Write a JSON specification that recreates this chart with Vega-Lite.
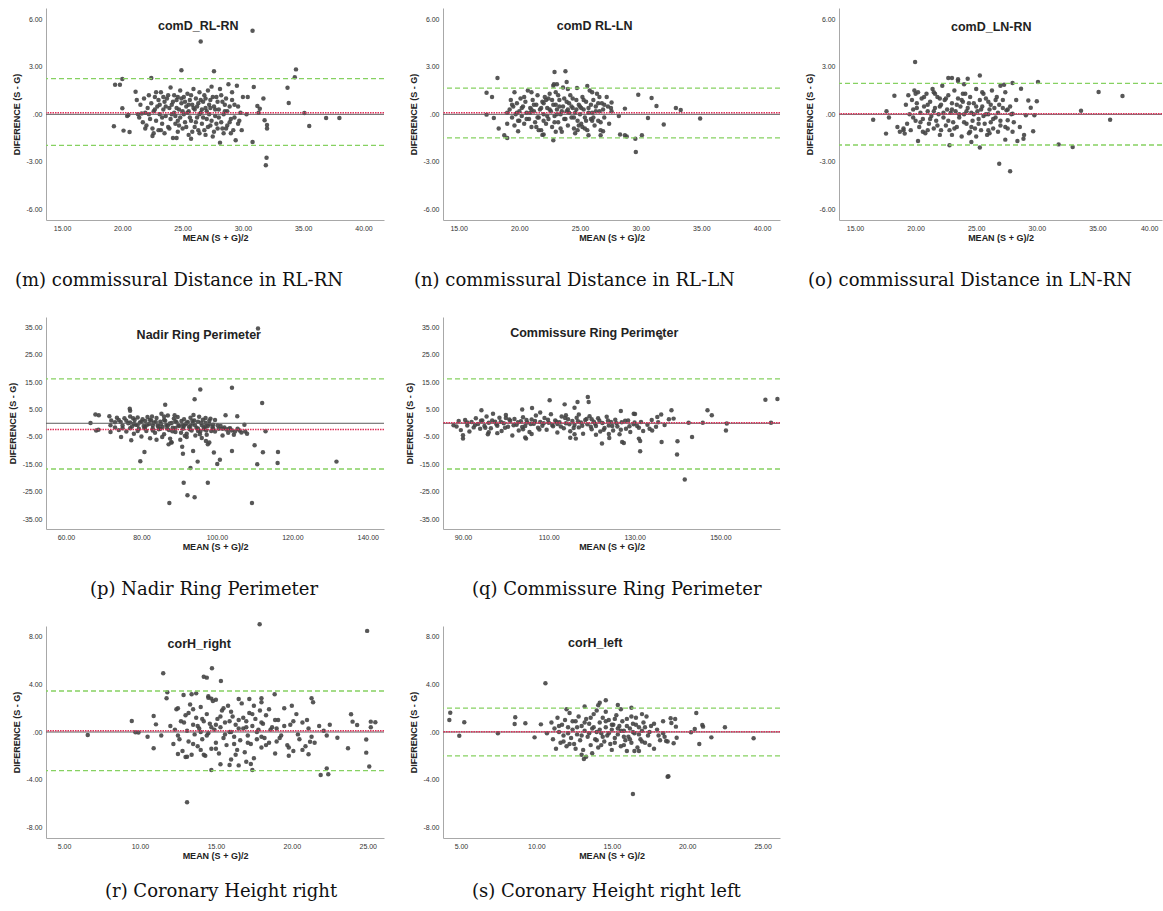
{
"$schema": "https://vega.github.io/schema/vega-lite/v6.json",
"padding": {"left": 8, "top": 8, "right": 0, "bottom": 5},
"config": {
 "view": {"stroke": null},
 "axis": {"domainColor": "#a8a8a8", "domainWidth": 1, "ticks": false, "grid": false, "labelOverlap": false, "labelFont": "Liberation Sans", "labelFontSize": 7, "labelColor": "#333333", "labelPadding": 4, "titleFont": "Liberation Sans", "titleFontSize": 9, "titleFontWeight": "bold", "titleColor": "#222222"},
 "axisX": {"titlePadding": 2},
 "axisY": {"titlePadding": 5},
 "title": {"font": "DejaVu Serif", "fontSize": 18, "fontWeight": "normal", "color": "#111111", "orient": "bottom", "anchor": "start", "frame": "group", "baseline": "top"}
},
"datasets": {
"m": [{"x":26.5,"y":4.6},{"x":30.8,"y":5.28},{"x":24.9,"y":2.78},{"x":27.6,"y":2.72},{"x":34.4,"y":2.84},{"x":34.3,"y":2.34},{"x":22.4,"y":2.3},{"x":20.0,"y":2.23},{"x":19.4,"y":1.87},{"x":19.8,"y":1.87},{"x":21.1,"y":1.43},{"x":33.7,"y":1.68},{"x":33.8,"y":0.72},{"x":30.9,"y":1.73},{"x":30.4,"y":1.1},{"x":35.1,"y":0.08},{"x":35.5,"y":-0.74},{"x":36.9,"y":-0.23},{"x":38.0,"y":-0.23},{"x":32.0,"y":-0.67},{"x":31.96,"y":-2.75},{"x":31.9,"y":-3.22},{"x":31.7,"y":1.0},{"x":31.8,"y":-0.38},{"x":32.0,"y":-0.9},{"x":30.8,"y":-1.75},{"x":28.1,"y":-1.79},{"x":19.3,"y":-0.76},{"x":20.1,"y":-1.03},{"x":20.6,"y":-1.12},{"x":20.0,"y":0.38},{"x":20.5,"y":-0.04},{"x":20.4,"y":-0.1},{"x":29.4,"y":-1.64},{"x":25.7,"y":-1.54},{"x":24.5,"y":-1.5},{"x":22.5,"y":-1.37},{"x":31.2,"y":0.53},{"x":31.4,"y":0.35},{"x":31.3,"y":0.1},{"x":30.3,"y":0.0},{"x":29.7,"y":-0.4},
{"x":21.2,"y":0.9},{"x":21.4,"y":-0.2},{"x":21.5,"y":0.6},{"x":21.7,"y":-0.5},{"x":21.8,"y":1.0},{"x":21.9,"y":0.1},{"x":22.0,"y":-0.7},{"x":22.1,"y":0.4},{"x":22.2,"y":1.2},{"x":22.3,"y":-0.3},{"x":22.4,"y":0.7},{"x":22.5,"y":-0.9},{"x":22.6,"y":0.2},{"x":22.7,"y":1.1},{"x":22.8,"y":-0.4},{"x":22.9,"y":0.5},{"x":23.0,"y":-1.0},{"x":23.0,"y":0.9},{"x":23.1,"y":0.0},{"x":23.2,"y":1.4},{"x":23.3,"y":-0.6},{"x":23.4,"y":0.3},{"x":23.5,"y":-1.2},{"x":23.5,"y":0.8},{"x":23.6,"y":-0.1},{"x":23.7,"y":1.0},{"x":23.8,"y":-0.8},{"x":23.9,"y":0.4},{"x":24.0,"y":1.7},{"x":24.0,"y":-0.3},{"x":24.1,"y":0.6},{"x":24.2,"y":-1.5},{"x":24.3,"y":1.2},{"x":24.3,"y":0.1},{"x":24.4,"y":-0.6},{"x":24.5,"y":0.9},{"x":24.6,"y":-1.1},{"x":24.7,"y":0.3},{"x":24.8,"y":1.5},{"x":24.8,"y":-0.2},{"x":24.9,"y":0.7},{"x":25.0,"y":-0.9},{"x":25.1,"y":1.1},{"x":25.1,"y":0.0},{"x":25.2,"y":-0.5},{"x":25.3,"y":0.5},{"x":25.4,"y":1.3},{"x":25.5,"y":-1.3},{"x":25.5,"y":0.2},{"x":25.6,"y":0.9},{"x":25.7,"y":-0.4},{"x":25.8,"y":0.6},{"x":25.9,"y":1.6},{"x":26.0,"y":-0.8},{"x":26.0,"y":0.3},{"x":26.1,"y":1.0},{"x":26.2,"y":-0.2},{"x":26.3,"y":0.7},{"x":26.4,"y":-1.2},{"x":26.4,"y":1.4},{"x":26.5,"y":0.1},{"x":26.6,"y":-0.6},{"x":26.7,"y":0.8},{"x":26.8,"y":1.2},{"x":26.8,"y":-1.0},{"x":26.9,"y":0.4},{"x":27.0,"y":-0.3},{"x":27.1,"y":1.5},{"x":27.2,"y":0.0},{"x":27.3,"y":-0.7},{"x":27.3,"y":0.9},{"x":27.4,"y":1.75},{"x":27.5,"y":-1.4},{"x":27.6,"y":0.5},{"x":27.7,"y":-0.1},{"x":27.8,"y":1.1},{"x":27.9,"y":-0.9},{"x":28.0,"y":0.3},{"x":28.1,"y":1.6},{"x":28.2,"y":-0.5},{"x":28.3,"y":0.8},{"x":28.4,"y":-1.2},{"x":28.5,"y":0.2},{"x":28.6,"y":1.0},{"x":28.7,"y":-0.7},{"x":28.8,"y":1.9},{"x":28.9,"y":0.5},{"x":29.0,"y":-0.3},{"x":29.1,"y":1.4},{"x":29.2,"y":-1.0},{"x":29.3,"y":0.6},{"x":29.5,"y":1.8},{"x":29.6,"y":-0.6},{"x":29.8,"y":0.1},{"x":30.0,"y":1.1},{"x":21.3,"y":0.0},{"x":21.6,"y":0.05},{"x":22.6,"y":-1.2},{"x":23.2,"y":-1.0},{"x":23.8,"y":1.2},{"x":24.6,"y":1.1},{"x":25.8,"y":-1.1},{"x":26.9,"y":-1.3},{"x":27.6,"y":-1.1},{"x":28.6,"y":-0.9},{"x":29.0,"y":-1.2},
{"x":22.2,"y":0.0},{"x":22.7,"y":0.3},{"x":23.1,"y":0.6},{"x":23.3,"y":-0.2},{"x":23.6,"y":0.5},{"x":23.9,"y":-0.9},{"x":24.1,"y":0.0},{"x":24.2,"y":0.8},{"x":24.4,"y":-0.1},{"x":24.5,"y":0.4},{"x":24.7,"y":-0.7},{"x":24.9,"y":1.0},{"x":25.0,"y":0.2},{"x":25.2,"y":0.8},{"x":25.3,"y":-0.8},{"x":25.4,"y":0.1},{"x":25.6,"y":-0.2},{"x":25.7,"y":1.2},{"x":25.9,"y":0.4},{"x":26.1,"y":-0.5},{"x":26.2,"y":0.5},{"x":26.3,"y":-1.0},{"x":26.5,"y":0.9},{"x":26.6,"y":0.3},{"x":26.7,"y":-0.2},{"x":26.9,"y":1.0},{"x":27.0,"y":0.2},{"x":27.1,"y":-0.8},{"x":27.2,"y":0.6},{"x":27.4,"y":-0.4},{"x":27.5,"y":1.1},{"x":27.7,"y":0.3},{"x":27.8,"y":-0.6},{"x":27.9,"y":0.8},{"x":28.0,"y":-0.2},{"x":28.2,"y":1.2},{"x":28.3,"y":-0.9},{"x":28.5,"y":0.6},{"x":28.7,"y":0.2},{"x":28.9,"y":-0.5},{"x":29.1,"y":0.9},{"x":29.3,"y":-0.2},{"x":29.6,"y":0.5},{"x":29.9,"y":-1.0},{"x":23.4,"y":1.1},{"x":24.6,"y":-0.4},{"x":25.5,"y":0.6},{"x":26.4,"y":0.0},{"x":27.3,"y":0.4},{"x":28.4,"y":0.0},{"x":21.9,"y":-0.9},{"x":22.8,"y":1.4}],
"n": [{"x":18.2,"y":2.29},{"x":17.3,"y":1.37},{"x":17.3,"y":-0.02},{"x":17.75,"y":1.1},{"x":17.9,"y":-0.23},{"x":18.3,"y":-0.9},{"x":18.76,"y":-1.33},{"x":19.0,"y":-1.5},{"x":19.0,"y":-0.6},{"x":19.9,"y":-1.07},{"x":22.9,"y":2.67},{"x":23.8,"y":2.72},{"x":23.9,"y":2.04},{"x":22.85,"y":1.9},{"x":23.1,"y":1.9},{"x":22.8,"y":-1.64},{"x":24.75,"y":1.66},{"x":25.6,"y":1.79},{"x":27.6,"y":0.74},{"x":27.55,"y":0.4},{"x":28.2,"y":-0.1},{"x":28.7,"y":0.36},{"x":28.3,"y":-1.28},{"x":28.7,"y":-1.33},{"x":28.85,"y":-1.4},{"x":29.56,"y":-1.54},{"x":29.6,"y":-2.38},{"x":29.8,"y":1.24},{"x":30.1,"y":-1.33},{"x":30.6,"y":-0.23},{"x":30.9,"y":1.03},{"x":31.3,"y":0.53},{"x":31.9,"y":-0.65},{"x":32.9,"y":0.4},{"x":33.3,"y":0.27},{"x":34.9,"y":-0.27},{"x":26.9,"y":-1.07},{"x":26.7,"y":-1.33},{"x":25.7,"y":-1.33},{"x":24.8,"y":-1.0},{"x":22.0,"y":-1.28},{"x":21.9,"y":-1.3},
{"x":19.2,"y":0.3},{"x":19.3,"y":0.9},{"x":19.4,"y":-0.2},{"x":19.5,"y":0.5},{"x":19.6,"y":1.4},{"x":19.7,"y":0.0},{"x":19.8,"y":0.7},{"x":19.9,"y":-0.4},{"x":20.0,"y":0.2},{"x":20.1,"y":1.0},{"x":20.2,"y":-0.1},{"x":20.3,"y":0.5},{"x":20.4,"y":-0.6},{"x":20.5,"y":0.8},{"x":20.6,"y":0.1},{"x":20.7,"y":1.5},{"x":20.8,"y":-0.3},{"x":20.9,"y":0.4},{"x":21.0,"y":-0.8},{"x":21.1,"y":0.9},{"x":21.2,"y":0.2},{"x":21.3,"y":-0.5},{"x":21.4,"y":0.6},{"x":21.5,"y":1.2},{"x":21.6,"y":-0.2},{"x":21.7,"y":0.3},{"x":21.8,"y":-1.0},{"x":21.9,"y":0.8},{"x":22.0,"y":0.0},{"x":22.1,"y":1.1},{"x":22.2,"y":-0.6},{"x":22.3,"y":0.4},{"x":22.4,"y":-0.3},{"x":22.5,"y":1.3},{"x":22.6,"y":0.2},{"x":22.7,"y":-0.8},{"x":22.8,"y":0.6},{"x":22.9,"y":-0.1},{"x":23.0,"y":1.4},{"x":23.1,"y":0.3},{"x":23.2,"y":-0.5},{"x":23.3,"y":0.9},{"x":23.4,"y":0.0},{"x":23.5,"y":-1.1},{"x":23.6,"y":0.5},{"x":23.7,"y":1.0},{"x":23.8,"y":-0.3},{"x":23.9,"y":0.2},{"x":24.0,"y":-0.7},{"x":24.1,"y":0.7},{"x":24.2,"y":1.2},{"x":24.3,"y":-0.2},{"x":24.4,"y":0.4},{"x":24.5,"y":-0.9},{"x":24.6,"y":0.1},{"x":24.7,"y":0.9},{"x":24.8,"y":-0.4},{"x":24.9,"y":0.6},{"x":25.0,"y":0.0},{"x":25.1,"y":-0.6},{"x":25.2,"y":1.1},{"x":25.3,"y":0.3},{"x":25.4,"y":-0.2},{"x":25.5,"y":0.8},{"x":25.6,"y":-1.0},{"x":25.7,"y":0.4},{"x":25.8,"y":1.5},{"x":25.9,"y":-0.3},{"x":26.0,"y":0.1},{"x":26.1,"y":0.9},{"x":26.2,"y":-0.7},{"x":26.3,"y":0.5},{"x":26.4,"y":1.3},{"x":26.5,"y":-0.4},{"x":26.6,"y":0.2},{"x":26.7,"y":-1.0},{"x":26.8,"y":0.7},{"x":27.0,"y":-0.2},{"x":27.2,"y":1.1},{"x":27.4,"y":-0.6},{"x":19.0,"y":0.1},{"x":19.6,"y":-0.7},{"x":20.4,"y":1.1},{"x":21.0,"y":1.4},{"x":21.6,"y":-1.0},{"x":22.2,"y":0.9},{"x":22.8,"y":1.8},{"x":23.4,"y":-0.9},{"x":24.0,"y":1.6},{"x":24.6,"y":-1.2},{"x":25.2,"y":-0.8},{"x":26.0,"y":1.4},{"x":26.6,"y":1.1},{"x":27.0,"y":0.6},{"x":27.6,"y":0.2},{"x":23.0,"y":-1.1},{"x":23.6,"y":1.7},
{"x":19.4,"y":0.6},{"x":19.8,"y":0.1},{"x":20.2,"y":0.4},{"x":20.6,"y":-0.3},{"x":20.9,"y":0.1},{"x":21.2,"y":0.6},{"x":21.5,"y":-0.2},{"x":21.8,"y":0.4},{"x":22.0,"y":0.7},{"x":22.3,"y":-0.1},{"x":22.5,"y":0.3},{"x":22.7,"y":0.9},{"x":22.9,"y":-0.5},{"x":23.1,"y":0.0},{"x":23.3,"y":0.5},{"x":23.5,"y":0.2},{"x":23.7,"y":-0.3},{"x":23.9,"y":0.8},{"x":24.1,"y":0.1},{"x":24.3,"y":0.5},{"x":24.5,"y":-0.2},{"x":24.7,"y":0.3},{"x":24.9,"y":-0.7},{"x":25.1,"y":0.4},{"x":25.3,"y":0.9},{"x":25.5,"y":-0.4},{"x":25.7,"y":0.1},{"x":25.9,"y":0.6},{"x":26.1,"y":-0.2},{"x":26.3,"y":0.2},{"x":26.5,"y":0.7},{"x":26.7,"y":-0.5},{"x":26.9,"y":0.3},{"x":27.3,"y":0.5},{"x":20.0,"y":-0.4},{"x":21.0,"y":0.3},{"x":22.0,"y":-0.4},{"x":23.0,"y":0.6},{"x":24.0,"y":0.3},{"x":25.0,"y":0.5},{"x":26.0,"y":-0.4},{"x":22.4,"y":1.0},{"x":24.4,"y":1.0},{"x":23.2,"y":1.2},{"x":21.4,"y":-0.8},{"x":25.4,"y":-0.9}],
"o": [{"x":19.96,"y":3.3},{"x":16.5,"y":-0.34},{"x":17.56,"y":-1.22},{"x":17.6,"y":0.19},{"x":17.8,"y":-0.2},{"x":18.25,"y":1.18},{"x":18.5,"y":-0.8},{"x":18.7,"y":-1.1},{"x":19.1,"y":-1.22},{"x":19.0,"y":-1.0},{"x":20.2,"y":-1.68},{"x":22.8,"y":-1.96},{"x":25.3,"y":-2.1},{"x":24.6,"y":-1.75},{"x":26.9,"y":-3.12},{"x":27.8,"y":-3.6},{"x":27.4,"y":-1.6},{"x":28.4,"y":-1.68},{"x":28.9,"y":-1.54},{"x":28.95,"y":-1.3},{"x":28.0,"y":1.98},{"x":27.3,"y":1.87},{"x":28.7,"y":1.62},{"x":25.3,"y":2.46},{"x":22.7,"y":2.29},{"x":23.0,"y":2.29},{"x":23.5,"y":2.21},{"x":24.3,"y":2.25},{"x":30.1,"y":2.04},{"x":29.3,"y":0.88},{"x":30.0,"y":0.82},{"x":29.1,"y":-0.06},{"x":29.8,"y":-0.06},{"x":29.7,"y":-1.07},{"x":29.5,"y":0.42},{"x":31.8,"y":-1.9},{"x":32.96,"y":-2.06},{"x":33.65,"y":0.23},{"x":35.1,"y":1.41},{"x":36.05,"y":-0.34},{"x":37.07,"y":1.16},{"x":27.5,"y":0.25},{"x":27.6,"y":-0.38},{"x":28.0,"y":0.04},
{"x":19.2,"y":0.6},{"x":19.3,"y":-0.6},{"x":19.4,"y":1.2},{"x":19.5,"y":0.0},{"x":19.6,"y":-1.0},{"x":19.7,"y":0.9},{"x":19.8,"y":0.3},{"x":19.9,"y":1.5},{"x":20.0,"y":-0.4},{"x":20.1,"y":0.7},{"x":20.2,"y":1.4},{"x":20.3,"y":-0.8},{"x":20.4,"y":0.1},{"x":20.5,"y":1.0},{"x":20.6,"y":-0.3},{"x":20.7,"y":0.5},{"x":20.8,"y":-1.2},{"x":20.9,"y":1.3},{"x":21.0,"y":0.2},{"x":21.1,"y":-0.6},{"x":21.2,"y":0.8},{"x":21.3,"y":-0.1},{"x":21.4,"y":1.6},{"x":21.5,"y":-0.9},{"x":21.6,"y":0.4},{"x":21.7,"y":-0.4},{"x":21.8,"y":1.1},{"x":21.9,"y":0.0},{"x":22.0,"y":-1.3},{"x":22.1,"y":0.6},{"x":22.2,"y":1.8},{"x":22.3,"y":-0.2},{"x":22.4,"y":0.9},{"x":22.5,"y":-0.7},{"x":22.6,"y":0.3},{"x":22.7,"y":1.2},{"x":22.8,"y":-1.0},{"x":22.9,"y":0.1},{"x":23.0,"y":0.7},{"x":23.1,"y":-0.5},{"x":23.2,"y":1.5},{"x":23.3,"y":0.2},{"x":23.4,"y":-0.8},{"x":23.5,"y":1.0},{"x":23.6,"y":-0.2},{"x":23.7,"y":0.5},{"x":23.8,"y":-1.4},{"x":23.9,"y":0.8},{"x":24.0,"y":0.0},{"x":24.1,"y":1.3},{"x":24.2,"y":-0.6},{"x":24.3,"y":0.4},{"x":24.4,"y":-1.2},{"x":24.5,"y":1.1},{"x":24.6,"y":0.1},{"x":24.7,"y":-0.4},{"x":24.8,"y":0.7},{"x":24.9,"y":-0.9},{"x":25.0,"y":1.6},{"x":25.1,"y":0.2},{"x":25.2,"y":-0.3},{"x":25.3,"y":0.9},{"x":25.4,"y":-1.0},{"x":25.5,"y":0.5},{"x":25.6,"y":1.3},{"x":25.7,"y":-0.6},{"x":25.8,"y":0.0},{"x":25.9,"y":-1.3},{"x":26.0,"y":0.8},{"x":26.1,"y":0.3},{"x":26.2,"y":-0.5},{"x":26.3,"y":1.5},{"x":26.4,"y":-0.9},{"x":26.5,"y":0.4},{"x":26.6,"y":-0.2},{"x":26.7,"y":1.1},{"x":26.8,"y":-1.1},{"x":26.9,"y":0.6},{"x":27.0,"y":-0.7},{"x":27.2,"y":0.9},{"x":27.4,"y":1.4},{"x":27.6,"y":-0.9},{"x":27.8,"y":0.5},{"x":28.1,"y":-0.5},{"x":28.3,"y":0.9},{"x":28.6,"y":-0.8},{"x":19.0,"y":-0.9},{"x":20.0,"y":1.3},{"x":21.0,"y":-1.0},{"x":22.0,"y":1.0},{"x":23.0,"y":-1.3},{"x":24.0,"y":1.9},{"x":25.0,"y":-1.4},{"x":26.0,"y":-1.0},{"x":27.0,"y":1.8},{"x":28.0,"y":-1.1},{"x":23.5,"y":2.1},{"x":21.5,"y":1.4},
{"x":19.8,"y":-0.2},{"x":20.1,"y":0.4},{"x":20.4,"y":-0.5},{"x":20.7,"y":1.1},{"x":21.0,"y":0.6},{"x":21.2,"y":-0.3},{"x":21.5,"y":0.2},{"x":21.8,"y":-0.7},{"x":22.0,"y":0.5},{"x":22.3,"y":0.1},{"x":22.5,"y":1.0},{"x":22.7,"y":-0.4},{"x":23.0,"y":0.3},{"x":23.2,"y":-0.9},{"x":23.4,"y":0.6},{"x":23.6,"y":0.0},{"x":23.8,"y":0.9},{"x":24.0,"y":-0.5},{"x":24.2,"y":0.2},{"x":24.4,"y":0.7},{"x":24.6,"y":-0.8},{"x":24.8,"y":0.0},{"x":25.0,"y":0.5},{"x":25.2,"y":-0.6},{"x":25.4,"y":0.3},{"x":25.6,"y":-0.1},{"x":25.8,"y":1.0},{"x":26.0,"y":0.0},{"x":26.2,"y":0.6},{"x":26.4,"y":-0.3},{"x":26.6,"y":0.9},{"x":26.8,"y":0.1},{"x":27.0,"y":-0.4},{"x":27.2,"y":0.4},{"x":27.4,"y":-0.8},{"x":27.6,"y":0.3},{"x":27.9,"y":0.0},{"x":22.1,"y":-1.0},{"x":24.5,"y":-1.1},{"x":26.1,"y":-1.2},{"x":21.6,"y":1.3},{"x":25.5,"y":1.4},{"x":23.9,"y":1.3},{"x":20.6,"y":-1.1}],
"p": [{"x":110.9,"y":34.6},{"x":95.6,"y":12.3},{"x":104.0,"y":13.0},{"x":94.1,"y":8.8},{"x":86.3,"y":6.8},{"x":112.0,"y":7.4},{"x":76.9,"y":5.3},{"x":77.0,"y":4.6},{"x":102.3,"y":2.9},{"x":105.4,"y":2.6},{"x":107.3,"y":-0.5},{"x":112.9,"y":-2.9},{"x":110.0,"y":-8.0},{"x":112.2,"y":-10.6},{"x":116.2,"y":-10.5},{"x":116.1,"y":-14.5},{"x":131.7,"y":-14.0},{"x":110.7,"y":-15.0},{"x":104.0,"y":-10.1},{"x":100.8,"y":-13.3},{"x":100.1,"y":-14.9},{"x":99.2,"y":-10.7},{"x":94.9,"y":-14.0},{"x":93.0,"y":-16.3},{"x":93.7,"y":-10.1},{"x":91.0,"y":-11.1},{"x":90.8,"y":-8.6},{"x":80.8,"y":-10.5},{"x":79.7,"y":-13.9},{"x":91.2,"y":-21.7},{"x":92.2,"y":-26.3},{"x":94.1,"y":-27.0},{"x":97.6,"y":-21.7},{"x":87.4,"y":-29.1},{"x":109.3,"y":-29.1},{"x":97.1,"y":-6.5},{"x":97.6,"y":-7.7},{"x":87.2,"y":-7.7},{"x":87.9,"y":-6.9},{"x":74.6,"y":-5.0},{"x":77.3,"y":-6.2},{"x":66.5,"y":0.1},{"x":67.8,"y":3.2},{"x":68.7,"y":2.9},{"x":68.0,"y":-2.6},{"x":68.6,"y":-2.4},{"x":71.5,"y":2.6},{"x":71.8,"y":-0.7},{"x":71.8,"y":-3.2},{"x":97.0,"y":1.9},{"x":98.3,"y":1.7},
{"x":72.0,"y":1.0},{"x":73.0,"y":-1.5},{"x":73.5,"y":2.0},{"x":74.0,"y":-2.5},{"x":74.5,"y":0.5},{"x":75.0,"y":-0.8},{"x":75.5,"y":1.8},{"x":76.0,"y":-3.0},{"x":76.5,"y":0.0},{"x":77.0,"y":2.5},{"x":77.5,"y":-1.2},{"x":78.0,"y":-3.8},{"x":78.2,"y":1.2},{"x":78.5,"y":-0.5},{"x":79.0,"y":2.1},{"x":79.3,"y":-2.0},{"x":79.6,"y":0.3},{"x":80.0,"y":-4.8},{"x":80.3,"y":1.5},{"x":80.6,"y":-1.0},{"x":81.0,"y":0.8},{"x":81.3,"y":-2.8},{"x":81.6,"y":2.3},{"x":82.0,"y":-0.3},{"x":82.3,"y":-5.5},{"x":82.6,"y":1.0},{"x":83.0,"y":-1.8},{"x":83.3,"y":0.2},{"x":83.6,"y":-3.5},{"x":84.0,"y":1.9},{"x":84.3,"y":-0.9},{"x":84.6,"y":-2.2},{"x":85.0,"y":0.6},{"x":85.3,"y":3.5},{"x":85.6,"y":-1.4},{"x":86.0,"y":-4.0},{"x":86.3,"y":0.9},{"x":86.6,"y":-0.6},{"x":87.0,"y":2.8},{"x":87.3,"y":-2.5},{"x":87.6,"y":-5.6},{"x":88.0,"y":0.1},{"x":88.3,"y":-1.6},{"x":88.6,"y":1.7},{"x":89.0,"y":-3.2},{"x":89.3,"y":0.4},{"x":89.6,"y":2.3},{"x":90.0,"y":-1.0},{"x":90.3,"y":-6.0},{"x":90.6,"y":0.8},{"x":91.0,"y":-2.0},{"x":91.3,"y":1.5},{"x":91.6,"y":-0.4},{"x":92.0,"y":-3.8},{"x":92.3,"y":0.5},{"x":92.6,"y":-1.3},{"x":93.0,"y":2.0},{"x":93.3,"y":-2.6},{"x":93.6,"y":-0.1},{"x":94.0,"y":1.0},{"x":94.3,"y":-4.5},{"x":94.6,"y":-1.7},{"x":95.0,"y":0.6},{"x":95.3,"y":2.4},{"x":95.6,"y":-3.0},{"x":96.0,"y":-0.6},{"x":96.3,"y":1.3},{"x":96.6,"y":-2.2},{"x":97.0,"y":0.2},{"x":97.3,"y":-4.2},{"x":97.6,"y":-1.0},{"x":98.0,"y":0.9},{"x":98.5,"y":-2.8},{"x":99.0,"y":-0.5},{"x":99.5,"y":1.2},{"x":100.5,"y":-2.0},{"x":101.0,"y":-1.0},{"x":101.5,"y":-4.5},{"x":102.0,"y":-1.5},{"x":102.5,"y":-2.3},{"x":103.0,"y":-3.5},{"x":103.5,"y":-1.8},{"x":104.0,"y":-2.6},{"x":104.5,"y":-4.2},{"x":105.5,"y":-2.0},{"x":106.5,"y":-3.4},{"x":107.5,"y":-3.0},{"x":108.0,"y":-3.8},{"x":77.0,"y":-1.8},{"x":79.0,"y":-0.6},{"x":81.0,"y":-1.4},{"x":83.0,"y":-0.7},{"x":85.0,"y":-2.0},{"x":87.0,"y":-0.8},{"x":89.0,"y":-1.7},{"x":91.0,"y":-0.6},{"x":93.0,"y":-1.0},{"x":95.0,"y":-1.9},{"x":97.0,"y":-1.2},{"x":99.0,"y":-1.9},{"x":84.0,"y":-6.0},{"x":86.0,"y":2.5},{"x":88.0,"y":-7.0},{"x":92.0,"y":-5.0},{"x":96.0,"y":-5.4},{"x":98.0,"y":-7.0},
{"x":73.0,"y":0.4},{"x":74.0,"y":1.2},{"x":75.0,"y":-1.8},{"x":76.0,"y":0.9},{"x":77.0,"y":0.3},{"x":78.0,"y":-0.2},{"x":79.0,"y":-2.8},{"x":80.0,"y":0.6},{"x":80.8,"y":-1.8},{"x":81.5,"y":-0.5},{"x":82.2,"y":1.3},{"x":83.0,"y":-2.6},{"x":83.8,"y":0.5},{"x":84.5,"y":-1.2},{"x":85.2,"y":-0.3},{"x":86.0,"y":1.2},{"x":86.8,"y":-1.9},{"x":87.5,"y":-0.1},{"x":88.2,"y":-2.9},{"x":89.0,"y":0.7},{"x":89.8,"y":-0.8},{"x":90.5,"y":-3.5},{"x":91.2,"y":-1.2},{"x":92.0,"y":0.1},{"x":92.8,"y":-2.2},{"x":93.5,"y":0.9},{"x":94.2,"y":-0.7},{"x":95.0,"y":-2.8},{"x":95.8,"y":0.2},{"x":96.5,"y":-1.5},{"x":97.2,"y":-2.6},{"x":98.0,"y":-0.3},{"x":98.8,"y":-1.4},{"x":99.5,"y":-3.0},{"x":100.2,"y":-0.8},{"x":101.5,"y":-2.0},{"x":103.2,"y":-2.0},{"x":104.8,"y":-3.0},{"x":106.0,"y":-2.6},{"x":77.8,"y":1.8},{"x":82.8,"y":2.5},{"x":88.8,"y":2.9},{"x":93.8,"y":3.0},{"x":85.5,"y":-5.0},{"x":91.5,"y":-4.6},{"x":95.5,"y":-4.0}],
"q": [{"x":136.1,"y":31.2},{"x":160.5,"y":8.6},{"x":163.3,"y":8.9},{"x":161.8,"y":0.2},{"x":147.0,"y":4.75},{"x":148.0,"y":2.9},{"x":145.9,"y":0.2},{"x":151.3,"y":-2.6},{"x":151.5,"y":-0.1},{"x":141.7,"y":-20.5},{"x":139.9,"y":-11.4},{"x":140.0,"y":-6.6},{"x":143.4,"y":-5.0},{"x":142.6,"y":0.2},{"x":138.6,"y":4.75},{"x":139.1,"y":1.7},{"x":136.2,"y":3.2},{"x":135.3,"y":2.3},{"x":136.3,"y":-6.8},{"x":134.1,"y":-2.6},{"x":131.3,"y":-10.2},{"x":131.0,"y":-5.6},{"x":131.3,"y":-6.5},{"x":129.8,"y":3.5},{"x":130.1,"y":3.4},{"x":130.6,"y":-1.0},{"x":122.4,"y":-7.4},{"x":126.8,"y":4.5},{"x":127.1,"y":-6.8},{"x":127.5,"y":-7.2},{"x":124.1,"y":-5.4},{"x":119.1,"y":9.6},{"x":119.3,"y":7.8},{"x":116.7,"y":7.8},{"x":113.7,"y":6.9},{"x":110.2,"y":8.4},{"x":116.0,"y":5.7},{"x":116.3,"y":-5.6},{"x":115.0,"y":-5.3},{"x":104.5,"y":-5.2},{"x":104.7,"y":-5.6},{"x":106.1,"y":5.6},{"x":103.8,"y":5.0},{"x":94.3,"y":4.75},{"x":90.0,"y":-4.4},{"x":90.0,"y":-5.6},{"x":87.8,"y":-0.7},{"x":95.8,"y":-4.0},
{"x":88.5,"y":-1.2},{"x":89.0,"y":0.8},{"x":89.5,"y":-2.5},{"x":90.5,"y":1.2},{"x":91.0,"y":-0.8},{"x":91.5,"y":-3.0},{"x":92.0,"y":0.5},{"x":92.5,"y":-1.5},{"x":93.0,"y":1.8},{"x":93.5,"y":-0.3},{"x":94.0,"y":-2.0},{"x":94.5,"y":1.0},{"x":95.0,"y":-1.0},{"x":95.5,"y":2.5},{"x":96.0,"y":0.2},{"x":96.5,"y":-1.8},{"x":97.0,"y":3.5},{"x":97.5,"y":0.6},{"x":98.0,"y":-0.9},{"x":98.5,"y":2.0},{"x":99.0,"y":-2.8},{"x":99.5,"y":0.0},{"x":100.0,"y":3.0},{"x":100.5,"y":-1.3},{"x":101.0,"y":0.9},{"x":101.5,"y":-4.5},{"x":102.0,"y":1.6},{"x":102.5,"y":-0.5},{"x":103.0,"y":-2.6},{"x":103.5,"y":0.7},{"x":104.0,"y":2.2},{"x":104.5,"y":-1.0},{"x":105.0,"y":0.3},{"x":105.5,"y":-3.2},{"x":106.0,"y":1.4},{"x":106.5,"y":-0.2},{"x":107.0,"y":2.8},{"x":107.5,"y":-1.6},{"x":108.0,"y":0.5},{"x":108.5,"y":-0.9},{"x":109.0,"y":1.9},{"x":109.5,"y":-2.4},{"x":110.0,"y":0.2},{"x":110.5,"y":3.3},{"x":111.0,"y":-1.1},{"x":111.5,"y":1.0},{"x":112.0,"y":-3.4},{"x":112.5,"y":0.4},{"x":113.0,"y":2.5},{"x":113.5,"y":-1.8},{"x":114.0,"y":0.0},{"x":114.5,"y":1.5},{"x":115.0,"y":-2.9},{"x":115.5,"y":0.8},{"x":116.0,"y":-0.6},{"x":116.5,"y":2.0},{"x":117.0,"y":-1.5},{"x":117.5,"y":0.3},{"x":118.0,"y":-3.8},{"x":118.5,"y":1.2},{"x":119.0,"y":-0.4},{"x":119.5,"y":2.6},{"x":120.0,"y":-2.2},{"x":120.5,"y":0.6},{"x":121.0,"y":-1.0},{"x":121.5,"y":1.8},{"x":122.0,"y":-3.0},{"x":122.5,"y":0.1},{"x":123.0,"y":-1.7},{"x":123.5,"y":2.4},{"x":124.0,"y":-0.8},{"x":124.5,"y":0.5},{"x":125.0,"y":-2.6},{"x":125.5,"y":1.3},{"x":126.0,"y":-1.2},{"x":126.5,"y":-4.0},{"x":127.0,"y":0.4},{"x":128.0,"y":-2.0},{"x":128.5,"y":1.0},{"x":129.0,"y":-3.2},{"x":130.0,"y":0.3},{"x":131.0,"y":-1.6},{"x":132.0,"y":-2.8},{"x":133.0,"y":-0.5},{"x":134.0,"y":1.2},{"x":135.0,"y":-1.3},{"x":137.0,"y":-0.6},{"x":138.0,"y":1.5},{"x":96.0,"y":-3.3},{"x":100.0,"y":1.9},{"x":104.0,"y":-2.2},{"x":108.0,"y":3.9},{"x":112.0,"y":-0.3},{"x":116.0,"y":-4.0},{"x":120.0,"y":1.5},{"x":124.0,"y":-3.9},
{"x":91.0,"y":0.3},{"x":92.8,"y":-0.6},{"x":94.2,"y":0.9},{"x":95.2,"y":-1.6},{"x":96.8,"y":1.0},{"x":97.8,"y":-0.4},{"x":98.8,"y":0.6},{"x":99.8,"y":-1.6},{"x":100.8,"y":1.4},{"x":101.8,"y":-0.7},{"x":102.8,"y":0.4},{"x":103.8,"y":-1.4},{"x":104.8,"y":1.2},{"x":105.8,"y":-0.3},{"x":106.8,"y":0.8},{"x":107.8,"y":-2.3},{"x":108.8,"y":0.0},{"x":109.8,"y":1.3},{"x":110.8,"y":-0.6},{"x":111.8,"y":0.6},{"x":112.8,"y":-1.2},{"x":113.8,"y":1.9},{"x":114.8,"y":-0.4},{"x":115.8,"y":-1.7},{"x":116.8,"y":0.7},{"x":117.8,"y":-0.9},{"x":118.8,"y":1.6},{"x":119.8,"y":-1.3},{"x":120.8,"y":-0.2},{"x":121.8,"y":0.9},{"x":122.8,"y":-2.4},{"x":123.8,"y":1.0},{"x":124.8,"y":-1.0},{"x":125.8,"y":0.0},{"x":126.8,"y":-2.4},{"x":127.8,"y":0.9},{"x":128.8,"y":-1.1},{"x":129.8,"y":-0.4},{"x":131.5,"y":0.5},{"x":133.5,"y":-2.0},{"x":135.5,"y":0.4},{"x":98.0,"y":-3.6},{"x":106.0,"y":-3.9},{"x":114.0,"y":2.9},{"x":121.0,"y":-4.2},{"x":117.0,"y":3.2}],
"r": [{"x":17.88,"y":9.03},{"x":24.96,"y":8.48},{"x":13.1,"y":-5.9},{"x":14.74,"y":5.34},{"x":11.53,"y":4.92},{"x":14.2,"y":4.64},{"x":14.4,"y":4.56},{"x":15.33,"y":4.28},{"x":11.8,"y":3.33},{"x":11.75,"y":2.83},{"x":12.87,"y":3.1},{"x":13.4,"y":3.16},{"x":13.7,"y":3.24},{"x":14.5,"y":2.88},{"x":14.7,"y":2.8},{"x":16.5,"y":2.77},{"x":17.2,"y":2.77},{"x":18.0,"y":2.83},{"x":18.87,"y":3.16},{"x":21.3,"y":2.83},{"x":21.4,"y":2.49},{"x":23.9,"y":1.48},{"x":24.0,"y":0.87},{"x":24.3,"y":0.59},{"x":25.2,"y":0.87},{"x":25.5,"y":0.81},{"x":25.2,"y":0.39},{"x":24.9,"y":-0.62},{"x":24.9,"y":-1.73},{"x":25.1,"y":-2.9},{"x":23.7,"y":-1.37},{"x":23.0,"y":-0.48},{"x":21.9,"y":-3.6},{"x":22.4,"y":-3.55},{"x":22.3,"y":-3.05},{"x":21.1,"y":-1.87},{"x":21.2,"y":-0.81},{"x":14.7,"y":-3.19},{"x":17.4,"y":-3.19},{"x":15.3,"y":-2.7},{"x":17.3,"y":-2.68},{"x":15.9,"y":-2.77},{"x":12.5,"y":-1.85},{"x":13.1,"y":-2.07},{"x":10.9,"y":-1.37},{"x":9.46,"y":0.92},{"x":9.7,"y":-0.03},{"x":9.9,"y":-0.05},{"x":6.56,"y":-0.25},{"x":10.5,"y":-0.39},{"x":10.9,"y":1.34},{"x":11.05,"y":0.64},{"x":11.4,"y":-0.3},
{"x":12.0,"y":0.5},{"x":12.2,"y":-1.0},{"x":12.4,"y":1.9},{"x":12.5,"y":-0.3},{"x":12.7,"y":0.9},{"x":12.8,"y":-1.6},{"x":13.0,"y":1.4},{"x":13.1,"y":0.1},{"x":13.2,"y":-0.8},{"x":13.3,"y":2.3},{"x":13.4,"y":-1.9},{"x":13.5,"y":0.6},{"x":13.6,"y":-0.2},{"x":13.7,"y":1.2},{"x":13.8,"y":-1.2},{"x":13.9,"y":0.3},{"x":14.0,"y":2.1},{"x":14.1,"y":-0.6},{"x":14.2,"y":0.9},{"x":14.3,"y":-2.0},{"x":14.4,"y":1.5},{"x":14.5,"y":-0.1},{"x":14.6,"y":0.7},{"x":14.7,"y":-1.4},{"x":14.8,"y":2.6},{"x":14.9,"y":0.2},{"x":15.0,"y":-0.9},{"x":15.1,"y":1.1},{"x":15.2,"y":-1.8},{"x":15.3,"y":0.4},{"x":15.4,"y":1.8},{"x":15.5,"y":-0.5},{"x":15.6,"y":0.8},{"x":15.7,"y":-1.1},{"x":15.8,"y":2.2},{"x":15.9,"y":0.0},{"x":16.0,"y":-2.3},{"x":16.1,"y":1.3},{"x":16.2,"y":-0.4},{"x":16.3,"y":0.6},{"x":16.4,"y":-1.5},{"x":16.5,"y":1.0},{"x":16.6,"y":-0.7},{"x":16.7,"y":2.4},{"x":16.8,"y":0.3},{"x":16.9,"y":-1.7},{"x":17.0,"y":0.9},{"x":17.1,"y":-0.3},{"x":17.2,"y":1.6},{"x":17.3,"y":-1.0},{"x":17.4,"y":0.5},{"x":17.5,"y":-2.2},{"x":17.6,"y":1.1},{"x":17.7,"y":-0.6},{"x":17.8,"y":0.2},{"x":17.9,"y":1.8},{"x":18.0,"y":-1.3},{"x":18.1,"y":0.7},{"x":18.2,"y":-0.5},{"x":18.3,"y":1.4},{"x":18.5,"y":-0.9},{"x":18.7,"y":0.4},{"x":18.9,"y":-1.8},{"x":19.1,"y":1.0},{"x":19.3,"y":-0.3},{"x":19.5,"y":2.0},{"x":19.7,"y":-1.1},{"x":19.9,"y":0.6},{"x":20.1,"y":-1.6},{"x":20.3,"y":1.5},{"x":20.5,"y":-0.6},{"x":20.7,"y":0.8},{"x":20.9,"y":-1.2},{"x":21.1,"y":0.3},{"x":21.5,"y":-0.9},{"x":21.8,"y":0.5},{"x":22.1,"y":0.1},{"x":22.3,"y":-0.3},{"x":22.5,"y":0.6},{"x":13.0,"y":-2.1},{"x":14.0,"y":-1.5},{"x":15.0,"y":2.7},{"x":16.0,"y":1.7},{"x":17.0,"y":-2.5},{"x":18.0,"y":2.5},{"x":19.0,"y":-0.8},{"x":20.0,"y":2.2},{"x":14.5,"y":3.0},{"x":12.5,"y":2.0},{"x":19.8,"y":-2.0},{"x":16.5,"y":-2.8},
{"x":12.3,"y":0.2},{"x":12.6,"y":-0.6},{"x":12.9,"y":0.8},{"x":13.2,"y":1.6},{"x":13.5,"y":-1.0},{"x":13.8,"y":0.5},{"x":14.1,"y":1.1},{"x":14.4,"y":-0.3},{"x":14.7,"y":0.4},{"x":15.0,"y":-1.4},{"x":15.3,"y":1.3},{"x":15.6,"y":-0.2},{"x":15.9,"y":0.9},{"x":16.2,"y":-1.0},{"x":16.5,"y":0.3},{"x":16.8,"y":1.2},{"x":17.1,"y":-0.9},{"x":17.4,"y":1.5},{"x":17.7,"y":0.0},{"x":18.0,"y":0.8},{"x":18.3,"y":-1.1},{"x":18.6,"y":0.2},{"x":18.9,"y":1.0},{"x":19.2,"y":-0.5},{"x":19.5,"y":0.5},{"x":19.8,"y":-1.3},{"x":20.1,"y":0.9},{"x":20.4,"y":-0.2},{"x":20.7,"y":-1.5},{"x":21.0,"y":1.0},{"x":21.3,"y":-0.4},{"x":14.0,"y":0.0},{"x":15.0,"y":0.6},{"x":16.0,"y":0.0},{"x":17.0,"y":0.4},{"x":18.0,"y":-0.4},{"x":19.0,"y":0.3},{"x":13.5,"y":1.9},{"x":15.5,"y":2.0},{"x":17.5,"y":2.2},{"x":14.2,"y":-1.9},{"x":16.3,"y":-1.9},{"x":18.5,"y":1.9}],
"s": [{"x":4.29,"y":1.62},{"x":4.23,"y":1.0},{"x":4.89,"y":-0.31},{"x":5.22,"y":0.81},{"x":7.45,"y":-0.11},{"x":8.6,"y":1.23},{"x":8.56,"y":0.67},{"x":9.27,"y":0.73},{"x":9.88,"y":-0.45},{"x":10.6,"y":4.08},{"x":16.4,"y":-5.2},{"x":18.7,"y":-3.75},{"x":18.75,"y":-3.72},{"x":15.4,"y":2.27},{"x":14.6,"y":2.66},{"x":14.2,"y":2.46},{"x":14.1,"y":2.25},{"x":13.2,"y":2.13},{"x":16.3,"y":2.04},{"x":13.15,"y":-2.27},{"x":13.3,"y":-2.07},{"x":13.7,"y":-1.79},{"x":16.5,"y":-1.59},{"x":20.6,"y":1.59},{"x":20.25,"y":-0.03},{"x":20.5,"y":0.25},{"x":20.8,"y":-1.0},{"x":21.0,"y":0.59},{"x":21.05,"y":0.45},{"x":21.6,"y":-0.45},{"x":22.5,"y":0.39},{"x":24.4,"y":-0.53},{"x":19.2,"y":1.09},{"x":19.25,"y":0.45},{"x":19.3,"y":-0.48},{"x":18.9,"y":1.15},{"x":18.95,"y":0.75},{"x":18.5,"y":-0.39},{"x":18.6,"y":-0.76},{"x":19.1,"y":-0.95},{"x":10.7,"y":-0.11},{"x":10.3,"y":0.64},
{"x":11.0,"y":0.8},{"x":11.1,"y":-0.6},{"x":11.2,"y":0.3},{"x":11.3,"y":-1.4},{"x":11.4,"y":1.2},{"x":11.5,"y":0.0},{"x":11.6,"y":-0.9},{"x":11.7,"y":0.6},{"x":11.8,"y":-0.3},{"x":11.9,"y":1.0},{"x":12.0,"y":-1.2},{"x":12.1,"y":0.4},{"x":12.2,"y":1.6},{"x":12.3,"y":-0.5},{"x":12.4,"y":0.2},{"x":12.5,"y":-1.0},{"x":12.6,"y":0.9},{"x":12.7,"y":-0.2},{"x":12.8,"y":1.3},{"x":12.9,"y":-0.7},{"x":13.0,"y":0.5},{"x":13.1,"y":-1.5},{"x":13.2,"y":0.1},{"x":13.3,"y":1.1},{"x":13.4,"y":-0.4},{"x":13.5,"y":0.7},{"x":13.6,"y":-1.1},{"x":13.7,"y":0.3},{"x":13.8,"y":1.5},{"x":13.9,"y":-0.6},{"x":14.0,"y":0.0},{"x":14.1,"y":-1.3},{"x":14.2,"y":0.8},{"x":14.3,"y":-0.1},{"x":14.4,"y":1.2},{"x":14.5,"y":-0.8},{"x":14.6,"y":0.4},{"x":14.7,"y":-0.3},{"x":14.8,"y":1.0},{"x":14.9,"y":-1.0},{"x":15.0,"y":0.2},{"x":15.1,"y":0.6},{"x":15.2,"y":-0.5},{"x":15.3,"y":1.4},{"x":15.4,"y":-0.2},{"x":15.5,"y":0.5},{"x":15.6,"y":-1.2},{"x":15.7,"y":0.9},{"x":15.8,"y":0.1},{"x":15.9,"y":-0.7},{"x":16.0,"y":1.1},{"x":16.1,"y":-0.4},{"x":16.2,"y":0.3},{"x":16.3,"y":-0.9},{"x":16.4,"y":0.7},{"x":16.5,"y":-0.1},{"x":16.6,"y":1.2},{"x":16.7,"y":-1.3},{"x":16.8,"y":0.4},{"x":16.9,"y":-0.6},{"x":17.0,"y":0.1},{"x":17.1,"y":0.8},{"x":17.2,"y":-0.9},{"x":17.3,"y":1.3},{"x":17.4,"y":-0.3},{"x":17.6,"y":0.5},{"x":17.8,"y":-1.4},{"x":18.0,"y":0.2},{"x":18.2,"y":-0.7},{"x":18.4,"y":0.9},{"x":18.7,"y":-0.8},{"x":12.0,"y":1.9},{"x":13.0,"y":-1.9},{"x":14.0,"y":1.8},{"x":15.0,"y":-1.5},{"x":16.0,"y":-1.6},{"x":17.0,"y":1.5},{"x":12.6,"y":-1.4},{"x":14.6,"y":1.7},{"x":15.6,"y":1.9},{"x":16.8,"y":-1.6},
{"x":11.5,"y":0.5},{"x":11.8,"y":-0.8},{"x":12.1,"y":-0.1},{"x":12.4,"y":0.9},{"x":12.7,"y":0.4},{"x":13.0,"y":-0.3},{"x":13.2,"y":0.8},{"x":13.5,"y":-0.1},{"x":13.8,"y":0.4},{"x":14.0,"y":-0.7},{"x":14.2,"y":0.2},{"x":14.4,"y":-0.4},{"x":14.6,"y":0.9},{"x":14.8,"y":-0.1},{"x":15.0,"y":0.6},{"x":15.2,"y":-0.9},{"x":15.4,"y":0.3},{"x":15.6,"y":0.1},{"x":15.8,"y":-0.4},{"x":16.0,"y":0.5},{"x":16.2,"y":-0.6},{"x":16.4,"y":0.0},{"x":16.6,"y":0.6},{"x":16.8,"y":-0.2},{"x":17.0,"y":-0.8},{"x":17.2,"y":0.4},{"x":17.5,"y":0.0},{"x":17.8,"y":0.7},{"x":18.1,"y":-0.3},{"x":18.4,"y":-0.1},{"x":13.6,"y":1.2},{"x":15.2,"y":1.1},{"x":16.3,"y":1.3},{"x":12.2,"y":-1.0},{"x":14.3,"y":-1.1},{"x":17.5,"y":-1.1},{"x":15.8,"y":-1.1}]
},
"columns": 3,
"spacing": {"row": 97, "column": 59},
"bounds": "flush",
"concat": [
{"width": 338, "height": 212, "title": {"text": "(m) commissural Distance in RL-RN", "dx": -31, "offset": 30},
 "layer": [
  {"data": {"name": "m"}, "mark": {"type": "circle", "size": 20, "color": "#454545", "opacity": 0.9},
   "encoding": {"x": {"field": "x", "type": "quantitative", "scale": {"domain": [13.67, 41.7], "nice": false, "zero": false}, "axis": {"values": [15,20,25,30,35,40], "tickCount": 20, "title": "MEAN (S + G)/2", "labelOverlap": false, "labelExpr": "replace(format(datum.value, '.2f'), '\u2212', '-')"}},
     "y": {"field": "y", "type": "quantitative", "scale": {"domain": [-6.68, 6.72], "nice": false, "zero": false}, "axis": {"values": [-6,-3,0,3,6], "tickCount": 20, "title": "DIFERENCE (S - G)", "labelOverlap": false, "labelExpr": "datum.value == 0 ? '.00' : replace(format(datum.value, '.2f'), '\u2212', '-')"}}}},
  {"data": {"values": [{"v": 2.25}, {"v": -1.96}]}, "mark": {"type": "rule", "color": "#86d161", "strokeDash": [5, 3], "strokeWidth": 1.3}, "encoding": {"y": {"field": "v", "type": "quantitative"}}},
  {"data": {"values": [{"v": 0}]}, "mark": {"type": "rule", "color": "#5c5c5c", "strokeWidth": 1}, "encoding": {"y": {"field": "v", "type": "quantitative"}}},
  {"data": {"values": [{"v": 0.1}]}, "mark": {"type": "rule", "color": "#e0305a", "strokeDash": [1.5, 1], "strokeWidth": 1.5}, "encoding": {"y": {"field": "v", "type": "quantitative"}}},
  {"data": {"values": [{"t": "comD_RL-RN"}]}, "mark": {"type": "text", "font": "Liberation Sans", "fontSize": 12.5, "fontWeight": "bold", "color": "#222222"}, "encoding": {"text": {"field": "t"}, "x": {"datum": 26.3}, "y": {"datum": 5.6}}}
 ]},
{"width": 337, "height": 212, "title": {"text": "(n) commissural Distance in RL-LN", "dx": -29, "offset": 30},
 "layer": [
  {"data": {"name": "n"}, "mark": {"type": "circle", "size": 20, "color": "#454545", "opacity": 0.9},
   "encoding": {"x": {"field": "x", "type": "quantitative", "scale": {"domain": [13.71, 41.48], "nice": false, "zero": false}, "axis": {"values": [15,20,25,30,35,40], "tickCount": 20, "title": "MEAN (S + G)/2", "labelOverlap": false, "labelExpr": "replace(format(datum.value, '.2f'), '\u2212', '-')"}},
     "y": {"field": "y", "type": "quantitative", "scale": {"domain": [-6.68, 6.72], "nice": false, "zero": false}, "axis": {"values": [-6,-3,0,3,6], "tickCount": 20, "title": "DIFERENCE (S - G)", "labelOverlap": false, "labelExpr": "datum.value == 0 ? '.00' : replace(format(datum.value, '.2f'), '\u2212', '-')"}}}},
  {"data": {"values": [{"v": 1.66}, {"v": -1.49}]}, "mark": {"type": "rule", "color": "#86d161", "strokeDash": [5, 3], "strokeWidth": 1.3}, "encoding": {"y": {"field": "v", "type": "quantitative"}}},
  {"data": {"values": [{"v": 0}]}, "mark": {"type": "rule", "color": "#5c5c5c", "strokeWidth": 1}, "encoding": {"y": {"field": "v", "type": "quantitative"}}},
  {"data": {"values": [{"v": 0.1}]}, "mark": {"type": "rule", "color": "#e0305a", "strokeDash": [1.5, 1], "strokeWidth": 1.5}, "encoding": {"y": {"field": "v", "type": "quantitative"}}},
  {"data": {"values": [{"t": "comD  RL-LN"}]}, "mark": {"type": "text", "font": "Liberation Sans", "fontSize": 12.5, "fontWeight": "bold", "color": "#222222"}, "encoding": {"text": {"field": "t"}, "x": {"datum": 26.2}, "y": {"datum": 5.6}}}
 ]},
{"width": 323, "height": 212, "title": {"text": "(o) commissural Distance in LN-RN", "dx": -31, "offset": 30},
 "layer": [
  {"data": {"name": "o"}, "mark": {"type": "circle", "size": 20, "color": "#454545", "opacity": 0.9},
   "encoding": {"x": {"field": "x", "type": "quantitative", "scale": {"domain": [13.68, 40.33], "nice": false, "zero": false}, "axis": {"values": [15,20,25,30,35,40], "tickCount": 20, "title": "MEAN (S + G)/2", "labelOverlap": false, "labelAlign": {"condition": {"test": "datum.value >= 40", "value": "right"}, "value": "center"}, "labelExpr": "replace(format(datum.value, '.2f'), '\u2212', '-')"}},
     "y": {"field": "y", "type": "quantitative", "scale": {"domain": [-6.68, 6.72], "nice": false, "zero": false}, "axis": {"values": [-6,-3,0,3,6], "tickCount": 20, "title": "DIFERENCE (S - G)", "labelOverlap": false, "labelExpr": "datum.value == 0 ? '.00' : replace(format(datum.value, '.2f'), '\u2212', '-')"}}}},
  {"data": {"values": [{"v": 1.96}, {"v": -1.94}]}, "mark": {"type": "rule", "color": "#86d161", "strokeDash": [5, 3], "strokeWidth": 1.3}, "encoding": {"y": {"field": "v", "type": "quantitative"}}},
  {"data": {"values": [{"v": 0}]}, "mark": {"type": "rule", "color": "#5c5c5c", "strokeWidth": 1}, "encoding": {"y": {"field": "v", "type": "quantitative"}}},
  {"data": {"values": [{"v": 0.03}]}, "mark": {"type": "rule", "color": "#e0305a", "strokeDash": [1.5, 1], "strokeWidth": 1.5}, "encoding": {"y": {"field": "v", "type": "quantitative"}}},
  {"data": {"values": [{"t": "comD_LN-RN"}]}, "mark": {"type": "text", "font": "Liberation Sans", "fontSize": 12.5, "fontWeight": "bold", "color": "#222222"}, "encoding": {"text": {"field": "t"}, "x": {"datum": 26.24}, "y": {"datum": 5.55}}}
 ]},
{"width": 338, "height": 212, "title": {"text": "(p) Nadir Ring Perimeter", "dx": 44, "offset": 30},
 "layer": [
  {"data": {"name": "p"}, "mark": {"type": "circle", "size": 20, "color": "#454545", "opacity": 0.9},
   "encoding": {"x": {"field": "x", "type": "quantitative", "scale": {"domain": [54.7, 144.3], "nice": false, "zero": false}, "axis": {"values": [60,80,100,120,140], "tickCount": 20, "title": "MEAN (S + G)/2", "labelOverlap": false, "labelExpr": "replace(format(datum.value, '.2f'), '\u2212', '-')"}},
     "y": {"field": "y", "type": "quantitative", "scale": {"domain": [-38.6, 38.8], "nice": false, "zero": false}, "axis": {"values": [-35,-25,-15,-5,5,15,25,35], "tickCount": 20, "title": "DIFERENCE (S - G)", "labelOverlap": false, "labelExpr": "replace(format(datum.value, '.2f'), '\u2212', '-')"}}}},
  {"data": {"values": [{"v": 16.2}, {"v": -16.7}]}, "mark": {"type": "rule", "color": "#86d161", "strokeDash": [5, 3], "strokeWidth": 1.3}, "encoding": {"y": {"field": "v", "type": "quantitative"}}},
  {"data": {"values": [{"v": 0}]}, "mark": {"type": "rule", "color": "#5c5c5c", "strokeWidth": 1}, "encoding": {"y": {"field": "v", "type": "quantitative"}}},
  {"data": {"values": [{"v": -2.3}]}, "mark": {"type": "rule", "color": "#e0305a", "strokeDash": [1.5, 1], "strokeWidth": 1.5}, "encoding": {"y": {"field": "v", "type": "quantitative"}}},
  {"data": {"values": [{"t": "Nadir Ring Perimeter"}]}, "mark": {"type": "text", "font": "Liberation Sans", "fontSize": 12.5, "fontWeight": "bold", "color": "#222222"}, "encoding": {"text": {"field": "t"}, "x": {"datum": 95.2}, "y": {"datum": 32.4}}}
 ]},
{"width": 337, "height": 212, "title": {"text": "(q) Commissure Ring Perimeter", "dx": 29, "offset": 30},
 "layer": [
  {"data": {"name": "q"}, "mark": {"type": "circle", "size": 20, "color": "#454545", "opacity": 0.9},
   "encoding": {"x": {"field": "x", "type": "quantitative", "scale": {"domain": [85.34, 163.9], "nice": false, "zero": false}, "axis": {"values": [90,110,130,150], "tickCount": 20, "title": "MEAN (S + G)/2", "labelOverlap": false, "labelExpr": "replace(format(datum.value, '.2f'), '\u2212', '-')"}},
     "y": {"field": "y", "type": "quantitative", "scale": {"domain": [-38.6, 38.8], "nice": false, "zero": false}, "axis": {"values": [-35,-25,-15,-5,5,15,25,35], "tickCount": 20, "title": "DIFERENCE (S - G)", "labelOverlap": false, "labelExpr": "replace(format(datum.value, '.2f'), '\u2212', '-')"}}}},
  {"data": {"values": [{"v": 16.2}, {"v": -16.7}]}, "mark": {"type": "rule", "color": "#86d161", "strokeDash": [5, 3], "strokeWidth": 1.3}, "encoding": {"y": {"field": "v", "type": "quantitative"}}},
  {"data": {"values": [{"v": 0}]}, "mark": {"type": "rule", "color": "#5c5c5c", "strokeWidth": 1}, "encoding": {"y": {"field": "v", "type": "quantitative"}}},
  {"data": {"values": [{"v": 0.2}]}, "mark": {"type": "rule", "color": "#e0305a", "strokeDash": [1.5, 1], "strokeWidth": 1.5}, "encoding": {"y": {"field": "v", "type": "quantitative"}}},
  {"data": {"values": [{"t": "Commissure Ring Perimeter"}]}, "mark": {"type": "text", "font": "Liberation Sans", "fontSize": 12.5, "fontWeight": "bold", "color": "#222222"}, "encoding": {"text": {"field": "t"}, "x": {"datum": 120.6}, "y": {"datum": 33.0}}}
 ]},
{"width": 10, "height": 10, "data": {"values": [{"t": " "}]}, "mark": {"type": "text"}, "encoding": {"text": {"field": "t"}}},
{"width": 338, "height": 212, "title": {"text": "(r) Coronary Height right", "dx": 59, "offset": 23},
 "layer": [
  {"data": {"name": "r"}, "mark": {"type": "circle", "size": 20, "color": "#454545", "opacity": 0.9},
   "encoding": {"x": {"field": "x", "type": "quantitative", "scale": {"domain": [3.81, 26.07], "nice": false, "zero": false}, "axis": {"values": [5,10,15,20,25], "tickCount": 20, "title": "MEAN (S + G)/2", "labelOverlap": false, "labelExpr": "replace(format(datum.value, '.2f'), '\u2212', '-')"}},
     "y": {"field": "y", "type": "quantitative", "scale": {"domain": [-8.89, 8.89], "nice": false, "zero": false}, "axis": {"values": [-8,-4,0,4,8], "tickCount": 20, "title": "DIFERENCE (S - G)", "labelOverlap": false, "labelExpr": "datum.value == 0 ? '.00' : replace(format(datum.value, '.2f'), '\u2212', '-')"}}}},
  {"data": {"values": [{"v": 3.44}, {"v": -3.24}]}, "mark": {"type": "rule", "color": "#86d161", "strokeDash": [5, 3], "strokeWidth": 1.3}, "encoding": {"y": {"field": "v", "type": "quantitative"}}},
  {"data": {"values": [{"v": 0}]}, "mark": {"type": "rule", "color": "#5c5c5c", "strokeWidth": 1}, "encoding": {"y": {"field": "v", "type": "quantitative"}}},
  {"data": {"values": [{"v": 0.11}]}, "mark": {"type": "rule", "color": "#e0305a", "strokeDash": [1.5, 1], "strokeWidth": 1.5}, "encoding": {"y": {"field": "v", "type": "quantitative"}}},
  {"data": {"values": [{"t": "corH_right"}]}, "mark": {"type": "text", "font": "Liberation Sans", "fontSize": 12.5, "fontWeight": "bold", "color": "#222222"}, "encoding": {"text": {"field": "t"}, "x": {"datum": 13.9}, "y": {"datum": 7.4}}}
 ]},
{"width": 337, "height": 212, "title": {"text": "(s) Coronary Height right left", "dx": 29, "offset": 23},
 "layer": [
  {"data": {"name": "s"}, "mark": {"type": "circle", "size": 20, "color": "#454545", "opacity": 0.9},
   "encoding": {"x": {"field": "x", "type": "quantitative", "scale": {"domain": [3.81, 26.15], "nice": false, "zero": false}, "axis": {"values": [5,10,15,20,25], "tickCount": 20, "title": "MEAN (S + G)/2", "labelOverlap": false, "labelExpr": "replace(format(datum.value, '.2f'), '\u2212', '-')"}},
     "y": {"field": "y", "type": "quantitative", "scale": {"domain": [-8.89, 8.89], "nice": false, "zero": false}, "axis": {"values": [-8,-4,0,4,8], "tickCount": 20, "title": "DIFERENCE (S - G)", "labelOverlap": false, "labelExpr": "datum.value == 0 ? '.00' : replace(format(datum.value, '.2f'), '\u2212', '-')"}}}},
  {"data": {"values": [{"v": 2.0}, {"v": -2.0}]}, "mark": {"type": "rule", "color": "#86d161", "strokeDash": [5, 3], "strokeWidth": 1.3}, "encoding": {"y": {"field": "v", "type": "quantitative"}}},
  {"data": {"values": [{"v": 0}]}, "mark": {"type": "rule", "color": "#5c5c5c", "strokeWidth": 1}, "encoding": {"y": {"field": "v", "type": "quantitative"}}},
  {"data": {"values": [{"v": 0.03}]}, "mark": {"type": "rule", "color": "#e0305a", "strokeDash": [1.5, 1], "strokeWidth": 1.5}, "encoding": {"y": {"field": "v", "type": "quantitative"}}},
  {"data": {"values": [{"t": "corH_left"}]}, "mark": {"type": "text", "font": "Liberation Sans", "fontSize": 12.5, "fontWeight": "bold", "color": "#222222"}, "encoding": {"text": {"field": "t"}, "x": {"datum": 13.9}, "y": {"datum": 7.5}}}
 ]}
]
}
